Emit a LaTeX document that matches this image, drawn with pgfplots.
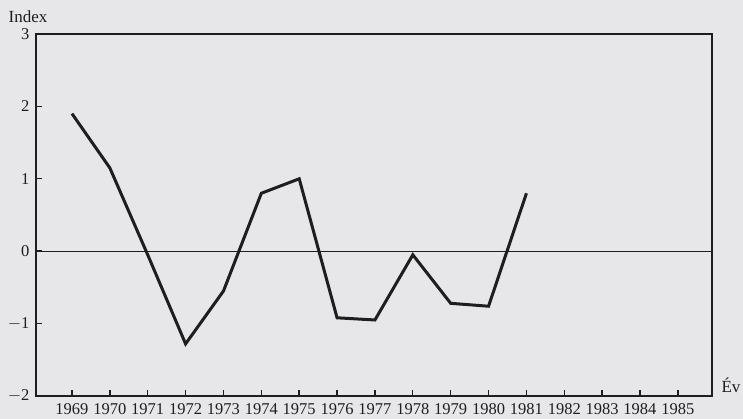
\documentclass[border=0pt]{standalone}
\usepackage{pgfplots}
\pgfplotsset{compat=1.18}
\usepackage{fontspec}
\setmainfont{Liberation Serif}
\definecolor{bg}{RGB}{231,231,233}
\definecolor{ink}{RGB}{30,30,30}
\begin{document}
\begin{tikzpicture}
\path[use as bounding box, fill=bg] (-36pt,-23pt) rectangle (707pt,396pt);
\begin{axis}[
  at={(0,0)}, anchor=south west,
  scale only axis, width=676pt, height=362pt,
  xmin=1968.05, xmax=1985.9, ymin=-2, ymax=3,
  xtick={1969,...,1985}, ytick={-2,-1,0,1,2,3},
  xtick pos=bottom, ytick pos=left, tick align=inside,
  major tick length=6pt,
  tick style={line width=1.4pt, color=ink},
  axis line style={line width=2pt, color=ink},
  /pgf/number format/assume math mode=true,
  /pgf/number format/set thousands separator={},
  yticklabel style={font=\fontsize{16.5}{19}\selectfont, text=ink, xshift=-3pt},
  xticklabel style={font=\fontsize{16.5}{19}\selectfont, text=ink, yshift=-4pt},
  yticklabels={$-$2,$-$1,0,1,2,3},
  clip=false,
]
\addplot[ink, line width=1.1pt] coordinates {(1968.05,0) (1985.9,0)};
\addplot[ink, line width=3pt, line join=miter] coordinates {
(1969,1.9) (1970,1.15) (1971,-0.05) (1972,-1.28) (1973,-0.55) (1974,0.8) (1975,1.0)
(1976,-0.92) (1977,-0.95) (1978,-0.05) (1979,-0.72) (1980,-0.76) (1981,0.8)};
\end{axis}
\node[text=ink, font=\fontsize{17}{20}\selectfont] at (-8pt,379pt) {Index};
\node[text=ink, font=\fontsize{17}{20}\selectfont] at (695pt,11pt) {Év};
\end{tikzpicture}
\end{document}
